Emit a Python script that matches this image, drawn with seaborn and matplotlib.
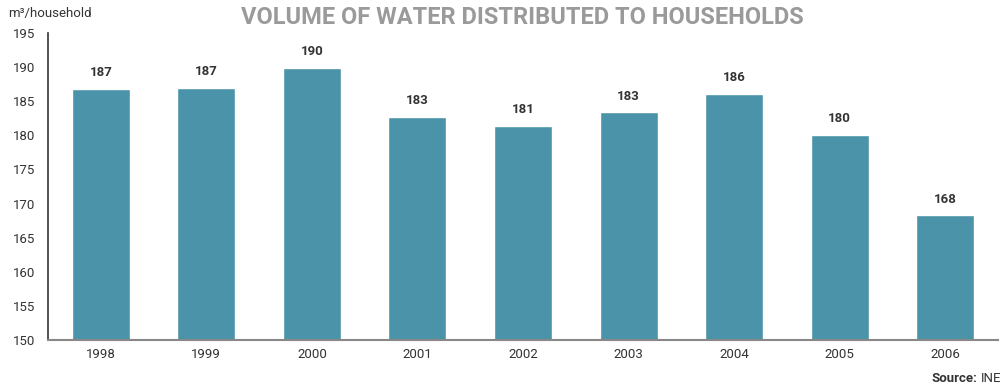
import matplotlib
matplotlib.use("Agg")
import matplotlib.pyplot as plt
from matplotlib.ticker import FixedLocator
import seaborn as sns
import numpy as np

years = ["1998", "1999", "2000", "2001", "2002", "2003", "2004", "2005", "2006"]
volume = [186.8, 187.0, 189.9, 182.7, 181.4, 183.4, 186.1, 180.1, 168.3]
y_ticks = [150, 155, 160, 165, 170, 175, 180, 185, 190, 195]

sns.set_theme(style="white")
plt.rcParams["font.family"] = ["Roboto", "DejaVu Sans"]

bar_color = "#4a93a8"
text_color = "#333333"

fig = plt.figure(figsize=(10.06, 3.87), dpi=100)
ax = fig.add_axes([48 / 1006, 1 - 340 / 387, 950 / 1006, 307 / 387])

sns.barplot(x=years, y=volume, color=bar_color, saturation=1, width=0.55, ax=ax)

ax.set_ylim(150, 195)
ax.set_xlim(-0.5, len(years) - 0.5)
ax.set_yticks(y_ticks)
ax.set_yticklabels([str(t) for t in y_ticks], fontsize=9.5, color=text_color)
ax.set_xticks(range(len(years)))
ax.set_xticklabels(years, fontsize=9.5, color=text_color)
ax.xaxis.set_minor_locator(FixedLocator(np.arange(-0.5, len(years), 1.0)))
ax.tick_params(axis="x", which="major", length=0, pad=6)
ax.tick_params(axis="x", which="minor", length=5, width=1.2, color="#333333", direction="out")
ax.tick_params(axis="y", length=5, width=1.2, color="#333333", direction="out", pad=4)
ax.set_xlabel("")
ax.set_ylabel("")

for side in ["top", "right"]:
    ax.spines[side].set_visible(False)
ax.spines["left"].set_color("#333333")
ax.spines["left"].set_linewidth(1.2)
ax.spines["bottom"].set_color("#888888")
ax.spines["bottom"].set_linewidth(1.5)

for i, v in enumerate(volume):
    ax.text(i, v + 1.4, f"{v:.0f}", ha="center", va="bottom", fontsize=9.5,
            fontweight="bold", color=text_color)

fig.text(522 / 1006, 1 - 18 / 387, "VOLUME OF WATER DISTRIBUTED TO HOUSEHOLDS",
         ha="center", va="center", fontsize=17, fontweight="bold", color="#9a9a9a")
fig.text(8 / 1006, 1 - 13 / 387, "m³/household", ha="left", va="center",
         fontsize=9.5, color=text_color)
src = fig.text(1001 / 1006, 1 - 379 / 387, "INE", ha="right", va="center",
               fontsize=9.5, color=text_color)
fig.canvas.draw()
bb = src.get_window_extent()
fig.text((bb.x0 - 3) / 1006, 1 - 379 / 387, "Source:", ha="right", va="center",
         fontsize=9.5, fontweight="bold", color=text_color)

fig.savefig("out.png", dpi=100)
